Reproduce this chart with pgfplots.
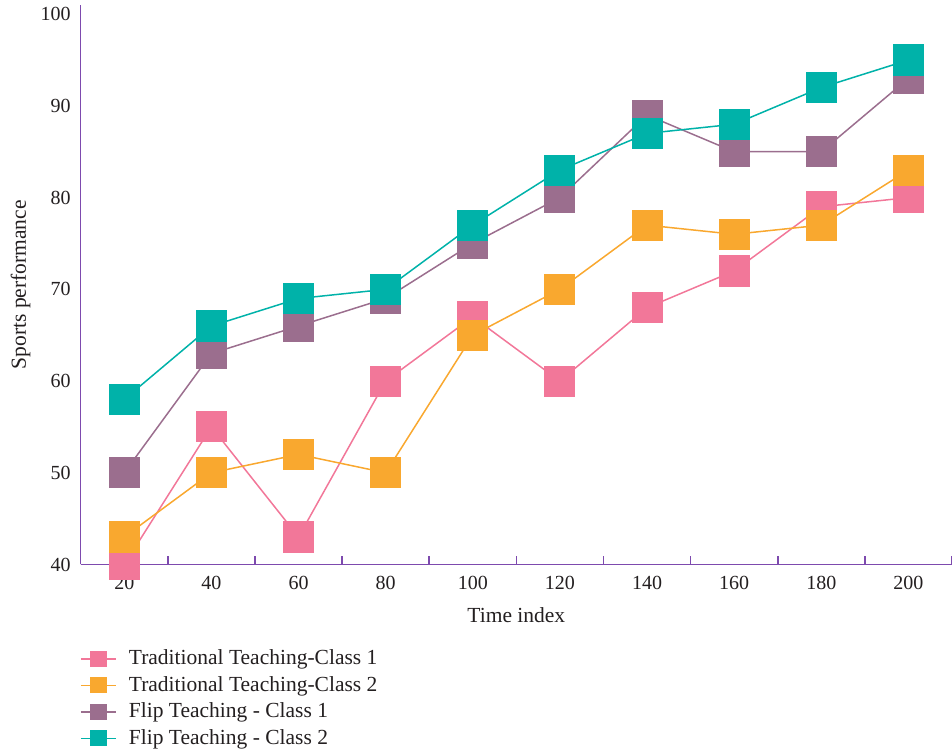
\documentclass[border=0pt]{standalone}
\usepackage{fontspec}
\setmainfont{Liberation Serif}
\usepackage{pgfplots}
\pgfplotsset{compat=1.18}
\definecolor{tradA}{HTML}{F27799}
\definecolor{tradB}{HTML}{F9A82F}
\definecolor{flipA}{HTML}{9B6E8E}
\definecolor{flipB}{HTML}{00B2A9}
\definecolor{axispurple}{HTML}{7D4AAE}
\definecolor{txt}{HTML}{231F20}

\begin{document}
\begin{tikzpicture}
% fixed frame around the axis, its labels and the legend below it
\useasboundingbox (-40.35pt,-94pt) rectangle (435.65pt,282.25pt);
\begin{axis}[
  scale only axis, width=435.65pt, height=279.75pt,
  xmin=10, xmax=210, ymin=40, ymax=101,
  clip=false,
  axis x line=bottom, axis y line=left,
  axis line style={axispurple, line width=0.8pt, -},
  xtick={20,40,...,200}, ytick={40,50,...,100},
  major tick length=0pt,
  extra x ticks={10,30,...,210}, extra x tick labels={},
  extra x tick style={major tick length=4pt, tick align=inside,
    major tick style={axispurple, line width=0.8pt}},
  /pgf/number format/assume math mode=true,
  tick label style={font=\fontsize{10}{12}\selectfont, text=txt},
  xticklabel style={yshift=-2.5pt},
  yticklabel style={xshift=-1.5pt},
  label style={font=\fontsize{10.75}{12}\selectfont, text=txt},
  xlabel={Time index},
  xlabel style={at={(axis description cs:0.5,0)}, anchor=center, yshift=-25.5pt},
  ylabel={Sports performance},
  ylabel style={at={([xshift=-30pt]axis description cs:0,0.5)}, anchor=center},
  legend cell align=left,
  legend style={at={(0,0)}, anchor=north west, yshift=-38.5pt, xshift=-0.5pt,
    draw=none, fill=none,
    font=\fontsize{10.75}{12}\selectfont, text=txt, inner xsep=0pt,
    row sep=0.3pt, /tikz/every odd column/.append style={column sep=4pt}},
  legend image code/.code={\draw[mark repeat=2, mark phase=2, mark size=3.65pt]
    plot coordinates {(0cm,0cm) (0.31cm,0cm) (0.62cm,0cm)};},
  every axis plot/.append style={line width=0.75pt, mark=square*, mark size=7.4pt},
]
\addplot[color=tradA, mark options={fill=tradA, draw=none}] coordinates {
  (20,40) (40,55) (60,43) (80,60) (100,67) (120,60) (140,68) (160,72) (180,79) (200,80)};
\addlegendentry{Traditional Teaching-Class 1}
\addplot[color=tradB, mark options={fill=tradB, draw=none}] coordinates {
  (20,43) (40,50) (60,52) (80,50) (100,65) (120,70) (140,77) (160,76) (180,77) (200,83)};
\addlegendentry{Traditional Teaching-Class 2}
\addplot[color=flipA, mark options={fill=flipA, draw=none}] coordinates {
  (20,50) (40,63) (60,66) (80,69) (100,75) (120,80) (140,89) (160,85) (180,85) (200,93)};
\addlegendentry{Flip Teaching - Class 1}
\addplot[color=flipB, mark options={fill=flipB, draw=none}] coordinates {
  (20,58) (40,66) (60,69) (80,70) (100,77) (120,83) (140,87) (160,88) (180,92) (200,95)};
\addlegendentry{Flip Teaching - Class 2}
\end{axis}
\end{tikzpicture}
\end{document}
